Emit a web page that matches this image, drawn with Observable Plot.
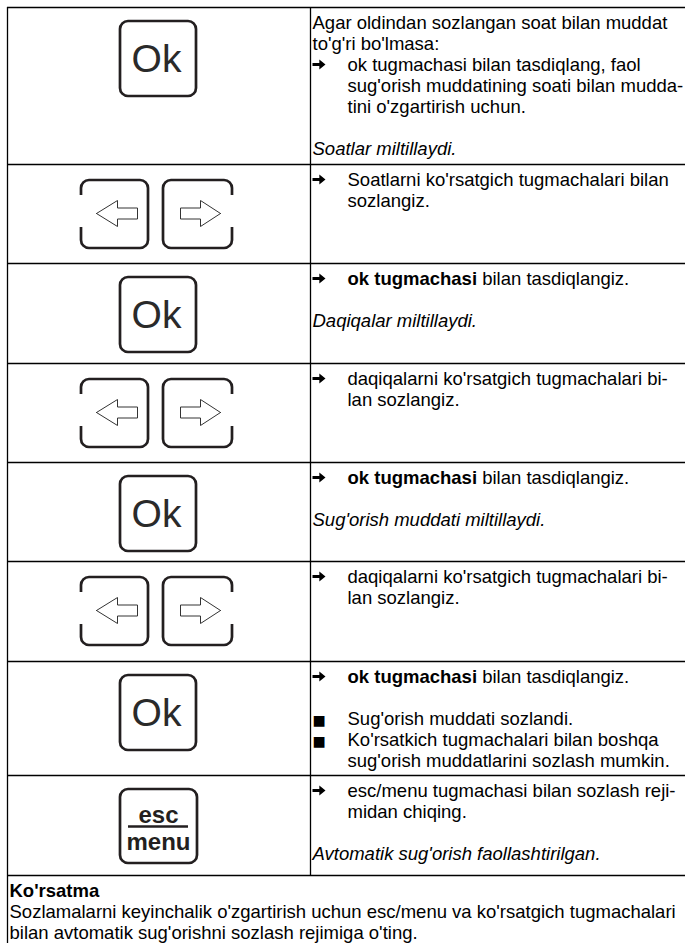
<!DOCTYPE html>
<html><head><meta charset="utf-8">
<script src="https://cdn.jsdelivr.net/npm/d3@7"></script>
<script src="https://cdn.jsdelivr.net/npm/@observablehq/plot@0.6"></script>
<style>html,body{margin:0;padding:0;background:#fff;overflow:hidden} svg{display:block}</style>
</head><body><div id="chart"></div>
<script>
// ---- content ----
const buttonKinds = ["ok", "arrows", "ok", "arrows", "ok", "arrows", "ok", "escmenu"];
const stepTexts = [
  ["Agar oldindan sozlangan soat bilan muddat", "to'g'ri bo'lmasa:", "➔\tok tugmachasi bilan tasdiqlang, faol", "\tsug'orish muddatining soati bilan mudda-", "\ttini o'zgartirish uchun.", "", "_Soatlar miltillaydi._"],
  ["➔\tSoatlarni ko'rsatgich tugmachalari bilan", "\tsozlangiz."],
  ["➔\t**ok tugmachasi** bilan tasdiqlangiz.", "", "_Daqiqalar miltillaydi._"],
  ["➔\tdaqiqalarni ko'rsatgich tugmachalari bi-", "\tlan sozlangiz."],
  ["➔\t**ok tugmachasi** bilan tasdiqlangiz.", "", "_Sug'orish muddati miltillaydi._"],
  ["➔\tdaqiqalarni ko'rsatgich tugmachalari bi-", "\tlan sozlangiz."],
  ["➔\t**ok tugmachasi** bilan tasdiqlangiz.", "", "■\tSug'orish muddati sozlandi.", "■\tKo'rsatkich tugmachalari bilan boshqa", "\tsug'orish muddatlarini sozlash mumkin."],
  ["➔\tesc/menu tugmachasi bilan sozlash reji-", "\tmidan chiqing.", "", "_Avtomatik sug'orish faollashtirilgan._"]
];
const noteTitle = "Ko'rsatma";
const noteLines = ["Sozlamalarni keyinchalik o'zgartirish uchun esc/menu va ko'rsatgich tugmachalari", "bilan avtomatik sug'orishni sozlash rejimiga o'ting."];
const okLabel = "Ok";
const escLabel = "esc";
const menuLabel = "menu";

// ---- layout ----
const W = 685, H = 943;
const rowEdges = [7, 164, 263, 363, 462, 561, 661, 775, 875];
const tableLeft = 7, divider = 310, tableRight = 685;
const textX = 312, indentX = 347, noteX = 9, lineH = 21, firstBase = 21;
const FONT = "'Liberation Sans', Arial, Helvetica, sans-serif";
const FS = 18.5;
const INK = "#000";
const ICON = "#231f20";

const ctx = document.createElement("canvas").getContext("2d");
function measure(s, weight = "normal") {
  ctx.font = `normal ${weight} ${FS}px ${FONT}`;
  return ctx.measureText(s).width;
}

const normalT = [], boldT = [], italicT = [], arrowT = [], bulletT = [];
function addLine(line, y, x0) {
  let x = x0, body = line;
  const tab = line.indexOf("\t");
  if (tab >= 0) {
    const m = line.slice(0, tab);
    if (m) (m === "■" ? bulletT : arrowT).push({x: x0, y, t: m});
    x = indentX;
    body = line.slice(tab + 1);
  }
  if (body.startsWith("_") && body.endsWith("_")) { italicT.push({x, y, t: body.slice(1, -1)}); return; }
  body.split("**").forEach((seg, k) => {
    const bold = k % 2 === 1;
    const lead = seg.length - seg.trimStart().length;
    if (lead) x += measure(" ".repeat(lead));
    seg = seg.trimStart();
    if (!seg) return;
    (bold ? boldT : normalT).push({x, y, t: seg});
    x += measure(seg, bold ? "bold" : "normal");
  });
}
stepTexts.forEach((lines, r) => {
  const top = rowEdges[r];
  lines.forEach((line, i) => { if (line) addLine(line, top + firstBase + i * lineH, textX); });
});
const noteTop = rowEdges[rowEdges.length - 1];
boldT.push({x: noteX, y: noteTop + firstBase, t: noteTitle});
noteLines.forEach((l, i) => normalT.push({x: noteX, y: noteTop + firstBase + (i + 1) * lineH, t: l}));

// heavy right-arrow symbol (like the ➔ dingbat) for the list markers
const heavyArrow = {
  draw(context, size) {
    const s = Math.sqrt(size / Math.PI);
    context.moveTo(-s, -0.22 * s);
    context.lineTo(0.05 * s, -0.22 * s);
    context.lineTo(0.05 * s, -0.78 * s);
    context.lineTo(s, 0);
    context.lineTo(0.05 * s, 0.78 * s);
    context.lineTo(0.05 * s, 0.22 * s);
    context.lineTo(-s, 0.22 * s);
    context.closePath();
  }
};

// ---- buttons ----
const boxes = [], gaps = [], arrowPts = [], okLabels = [], escLabels = [], escRules = [];
buttonKinds.forEach((k, r) => {
  const top = rowEdges[r];
  if (k === "ok") {
    boxes.push({x1: 120, x2: 196, y1: top + 14, y2: top + 89});
    okLabels.push({x: 156, y: top + 64, t: okLabel});
  } else if (k === "escmenu") {
    boxes.push({x1: 120, x2: 197, y1: top + 14, y2: top + 88});
    escLabels.push({x: 158, y: top + 47, t: escLabel});
    escLabels.push({x: 158, y: top + 74, t: menuLabel});
    escRules.push({y: top + 51, x1: 128, x2: 188});
  } else {
    boxes.push({x1: 81, x2: 148, y1: top + 16, y2: top + 84});
    boxes.push({x1: 163, x2: 232, y1: top + 16, y2: top + 84});
    gaps.push({x1: 77, x2: 85, y1: top + 31, y2: top + 63});
    gaps.push({x1: 228, x2: 236, y1: top + 31, y2: top + 63});
    const c = top + 49;
    const L = [[96, c], [117, c - 13], [117, c - 5.5], [137, c - 5.5], [137, c + 5.5], [117, c + 5.5], [117, c + 13], [96, c]];
    const R = [[220, c], [200, c - 13], [200, c - 5.5], [180, c - 5.5], [180, c + 5.5], [200, c + 5.5], [200, c + 13], [220, c]];
    L.forEach(([x, y]) => arrowPts.push({id: "L" + r, x, y}));
    R.forEach(([x, y]) => arrowPts.push({id: "R" + r, x, y}));
  }
});

const textOpts = {x: "x", y: "y", text: "t", textAnchor: "start", lineAnchor: "bottom", fontFamily: FONT, fontSize: FS, fill: INK};

const chart = Plot.plot({
  width: W, height: H, margin: 0,
  x: {domain: [0, W], range: [0, W], axis: null},
  y: {domain: [0, H], range: [0, H], axis: null},
  style: {background: "#fff", overflow: "visible"},
  marks: [
    Plot.ruleY(rowEdges, {x1: tableLeft, x2: tableRight, stroke: INK, strokeWidth: 1.3}),
    Plot.ruleX([tableLeft], {y1: rowEdges[0], y2: H, stroke: INK, strokeWidth: 1.3}),
    Plot.ruleX([divider], {y1: rowEdges[0], y2: noteTop, stroke: INK, strokeWidth: 1.3}),
    Plot.rect(boxes, {x1: "x1", x2: "x2", y1: "y1", y2: "y2", rx: 8, fill: "none", stroke: ICON, strokeWidth: 2.7}),
    Plot.rect(gaps, {x1: "x1", x2: "x2", y1: "y1", y2: "y2", fill: "#fff"}),
    Plot.line(arrowPts, {x: "x", y: "y", z: "id", stroke: "#333", strokeWidth: 1, curve: "linear"}),
    Plot.text(okLabels, {x: "x", y: "y", text: "t", textAnchor: "middle", lineAnchor: "bottom", fontFamily: FONT, fontSize: 39, fill: "#2a2a2a"}),
    Plot.text(escLabels, {x: "x", y: "y", text: "t", textAnchor: "middle", lineAnchor: "bottom", fontFamily: FONT, fontSize: 24, fontWeight: "bold", fill: ICON}),
    Plot.ruleY(escRules, {y: "y", x1: "x1", x2: "x2", stroke: ICON, strokeWidth: 2.5}),
    Plot.text(normalT, textOpts),
    Plot.text(boldT, {...textOpts, fontWeight: "bold"}),
    Plot.text(italicT, {...textOpts, fontStyle: "italic"}),
    Plot.dot(arrowT, {x: "x", y: "y", dx: 6.5, dy: -6, r: 6.5, symbol: heavyArrow, fill: INK, stroke: "none"}),
    Plot.text(bulletT, {...textOpts, fontFamily: "'DejaVu Sans', sans-serif", fontSize: 14})
  ]
});
document.getElementById("chart").appendChild(chart);
</script>
</body></html>
